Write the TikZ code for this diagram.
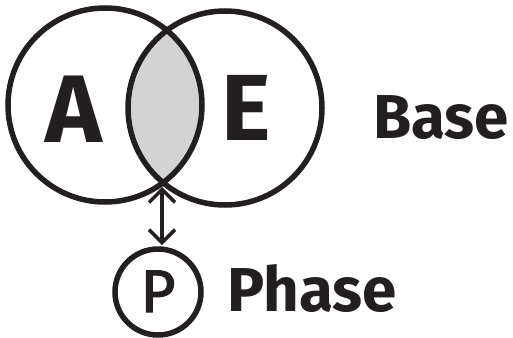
\documentclass[tikz,border=0pt]{standalone}
\usepackage{fontspec}
\setmainfont{Fira Sans}
\newfontfamily\pfont{Fira Sans}[FakeBold=2]
\usetikzlibrary{arrows.meta}
\definecolor{ink}{HTML}{231F20}
\definecolor{lens}{HTML}{D3D3D3}
\begin{document}
\begin{tikzpicture}[x=1pt,y=-1pt,
  ring/.style={draw=ink,line width=5.5pt,circle,inner sep=0pt,outer sep=0pt},
  lbl/.style={inner sep=0pt,text=ink,font=\bfseries},
  link/.style={draw=ink,line width=3.5pt,>={Straight Barb[length=13pt,width=26pt]},<->}]
\useasboundingbox (0,0) rectangle (513,337);
\begin{scope}
  \clip (105,105) circle (97);
  \fill[lens] (225,108) circle (97);
\end{scope}
\node[ring,minimum size=194pt] (a) at (105,105) {};
\node[ring,minimum size=194pt] (e) at (225,108) {};
\node[ring,minimum size=86pt] (p) at (158,292) {};
\coordinate (ix) at (162,183);
\draw[link,shorten <=4pt,shorten >=4pt] (ix) -- (ix |- p.north);
\node[lbl,anchor=base,font=\bfseries\fontsize{96}{96}\selectfont] (ta) at (74,142) {A};
\node[lbl,anchor=base,font=\bfseries\fontsize{94}{94}\selectfont] (te) at (246,140) {E};
\node[lbl,anchor=base,font=\pfont\fontsize{60}{60}\selectfont] (tp) at (p.center) [yshift=-20pt] {P};
\node[lbl,anchor=base west,font=\bfseries\fontsize{62}{62}\selectfont] (base) at (373,138) {Base};
\node[lbl,anchor=base west,font=\bfseries\fontsize{62}{62}\selectfont] (phase) at (227,311) {Phase};
\end{tikzpicture}
\end{document}
